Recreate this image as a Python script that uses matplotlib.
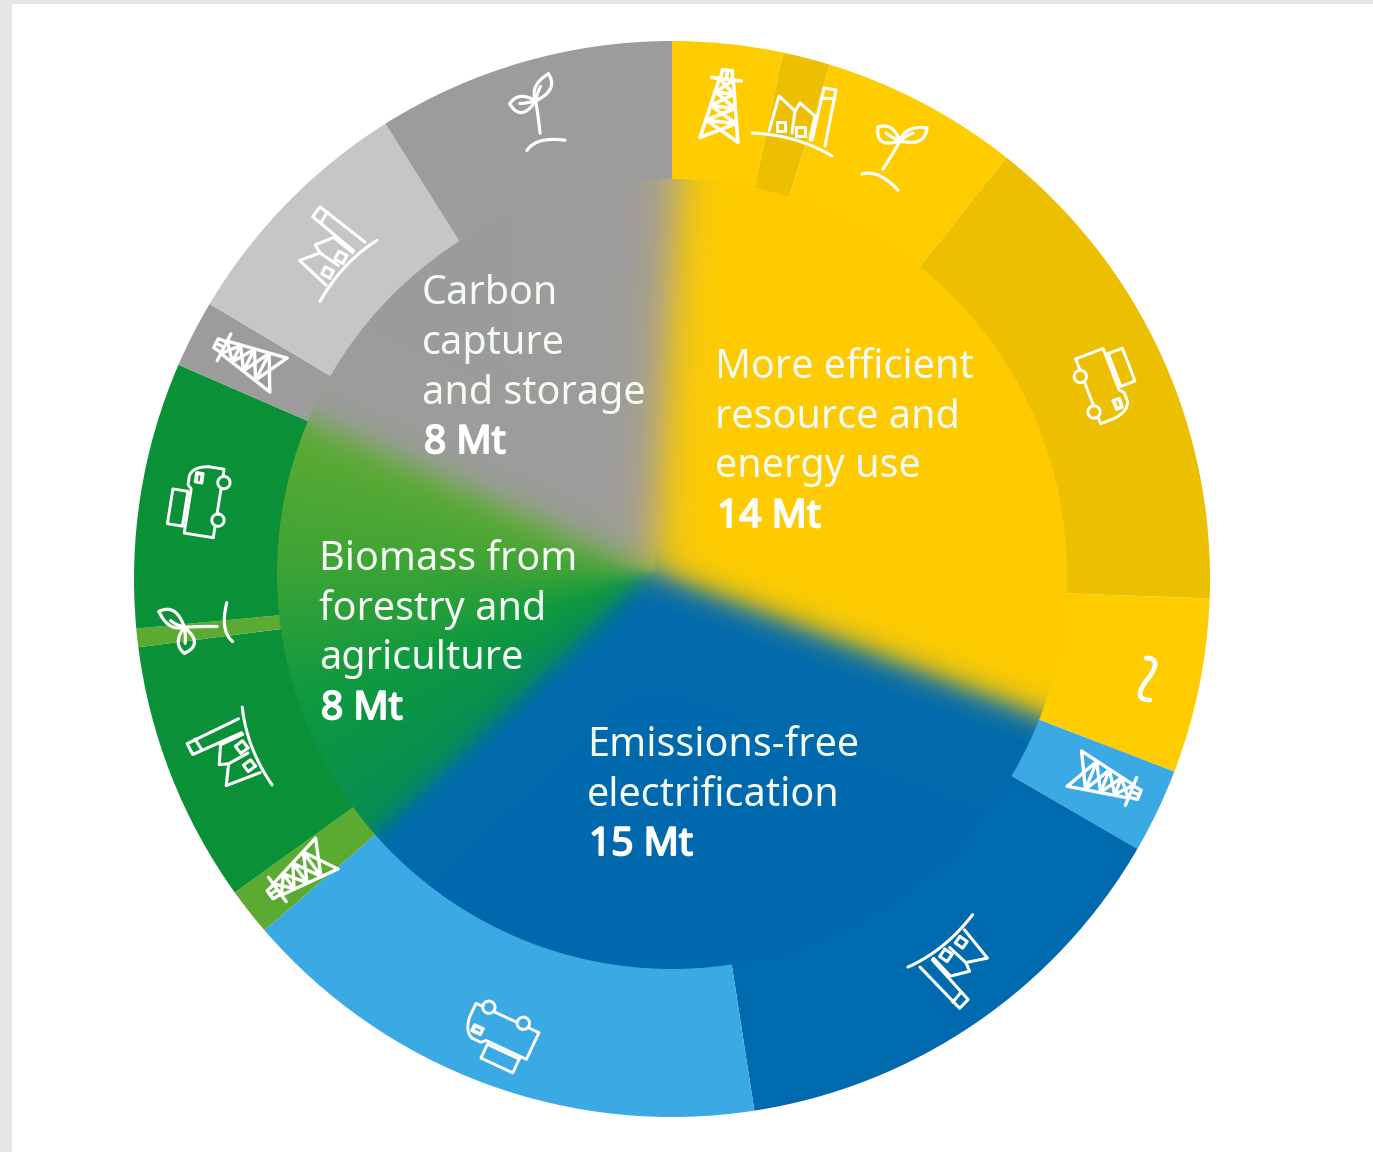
import numpy as np
import matplotlib
matplotlib.use("Agg")
import matplotlib.pyplot as plt
import matplotlib.patheffects as pe
from matplotlib.patches import Circle, Rectangle
from matplotlib.transforms import Affine2D

W, H = 1373, 1152

# ---------- data ----------
outer_values = [1.49, 0.64, 2.67, 6.70, 2.36, 1.14, 6.38, 7.25, 0.64, 3.54, 0.25, 3.59, 0.91, 3.38, 4.02]
outer_names = ["oil", "industry", "biomass", "transport", "other",
               "oil", "industry", "transport",
               "oil", "industry", "biomass", "transport",
               "oil", "industry", "biomass"]
YEL, GOLD = "#FFCC00", "#ECBF00"
BLU, LBL = "#006AAE", "#3BA9E3"
GRN, LGR = "#0A9138", "#5BAA32"
GRY, LGY = "#9D9C9C", "#C6C6C5"
outer_colors = [YEL, GOLD, YEL, GOLD, YEL, LBL, BLU, LBL, LGR, GRN, LGR, GRN, GRY, LGY, GRY]

inner_names = ["More efficient resource and energy use", "Emissions-free electrification",
               "Biomass from forestry and agriculture", "Carbon capture and storage"]
inner_mt = [14, 15, 8, 8]
inner_bounds_deg = [3.5, 110.4, 226.8, 293.8]
inner_blur = [12.0, 8.0, 6.0, 9.0]

labels = [
    (["Carbon", "capture", "and storage"], "8 Mt", 422, [304, 354, 404, 453]),
    (["More efficient", "resource and", "energy use"], "14 Mt", 715, [378, 428, 477, 527]),
    (["Biomass from", "forestry and", "agriculture"], "8 Mt", 319, [570, 620, 669, 719]),
    (["Emissions-free", "electrification"], "15 Mt", 587, [756, 806, 855]),
]

# ---------- figure ----------
fig = plt.figure(figsize=(W / 100, H / 100), dpi=100, facecolor="white")
ax = fig.add_axes([0, 0, 1, 1])
CX, CY, R = 672, H - 579, 538
ICX, ICY, IR = 672, H - 574, 395

ax.pie(outer_values, colors=outer_colors, startangle=90, counterclock=False,
       center=(CX, CY), radius=R, wedgeprops=dict(width=R - IR + 6, linewidth=0))

# inner disc with soft sector borders
AX, AY = 655, H - 572
yy, xx = np.mgrid[0:H, 0:W]
px = xx + 0.5 - AX
py = (H - yy - 0.5) - AY
th = np.radians(inner_bounds_deg)
dist = [px * np.cos(t) - py * np.sin(t) for t in th]
sig = lambda v: 1 / (1 + np.exp(np.clip(-v, -30, 30)))
rgb = lambda c: np.array(matplotlib.colors.to_rgb(c))
ang = (np.degrees(np.arctan2(px, py))) % 360
gr_stops = [226, 250, 272, 294]
gr_cols = np.array([rgb("#078C55"), rgb("#0F993F"), rgb("#3FA436"), rgb("#5EAC32")])
green = np.dstack([np.interp(ang, gr_stops, gr_cols[:, k]) for k in range(3)])
fills = [np.ones((H, W, 3)) * rgb(YEL), np.ones((H, W, 3)) * rgb(BLU), green, np.ones((H, W, 3)) * rgb(GRY)]
n = len(th)
weights = [sig(dist[i] / inner_blur[i]) * sig(-dist[(i + 1) % n] / inner_blur[(i + 1) % n]) for i in range(n)]
tot = sum(weights) + 1e-6
img = sum(w[..., None] * f for w, f in zip(weights, fills)) / tot[..., None]
im = ax.imshow(np.clip(img, 0, 1), extent=(0, W, 0, H), origin="upper", zorder=2, interpolation="bilinear")
clip = Circle((ICX, ICY), IR, transform=ax.transData)
im.set_clip_path(clip)


# ---------- icons ----------
def q(p0, p1, p2, k=14):
    t = np.linspace(0, 1, k)[:, None]
    p0, p1, p2 = map(np.array, (p0, p1, p2))
    return (1 - t) ** 2 * p0 + 2 * t * (1 - t) * p1 + t ** 2 * p2


def circ(x, y, r):
    t = np.linspace(0, 2 * np.pi, 24)
    return np.c_[x + r * np.cos(t), y + r * np.sin(t)]


def box(x0, y0, x1, y1):
    return np.array([(x0, y0), (x1, y0), (x1, y1), (x0, y1), (x0, y0)])


def rig():
    lv = [(-19, -33), (-15, -15), (-12, 0), (-9, 14), (-7, 28)]
    out = [np.array([(-19, -33), (-7, 28)]), np.array([(19, -33), (7, 28)]),
           np.array([(-15, 28), (15, 28)]), np.array([(-6, 28), (-5, 37), (5, 37), (6, 28)]),
           np.array([(0, 37), (0, 28)])]
    for a, b in zip(lv[:-1], lv[1:]):
        out.append(np.array([a, (-b[0], b[1])]))
        out.append(np.array([(-a[0], a[1]), b]))
        if a[1] > -33:
            out.append(np.array([(a[0], a[1]), (-a[0], a[1])]))
    return out


def factory():
    return [q((-40, -20), (5, -22), (40, -43)),
            np.array([(-23, -18), (-13, 17), (3, 2), (0, -20)]),
            np.array([(3, 2), (8, 10), (23, -3), (18, -27)]),
            np.array([(20, -27), (32, 25), (44, 23), (33, -33)]),
            np.array([(30, 15), (43, 14)]),
            box(-15, -18, -7, -9), box(4, -23, 13, -14)]


def plant():
    return [q((0, -12), (8, 0), (17, 16)),
            q((-21, -17), (-5, -12), (15, -33)),
            q((17, 16), (10, 35), (-5, 30)), q((-5, 30), (-8, 8), (17, 16)),
            q((17, 16), (22, 32), (44, 29)), q((44, 29), (42, 10), (17, 16)),
            q((17, 16), (8, 20), (3, 24)), q((17, 16), (24, 22), (30, 24))]


def truck():
    return [box(-30, 14, 7, 30),
            np.array([(-37, -20), (-37, 11), (10, 11), (14, 15), (24, 15)]),
            q((24, 15), (34, 12), (36, -4)),
            np.array([(36, -4), (36, -20), (29, -20)]),
            circ(22, -22, 6.5),
            np.array([(15, -20), (-11, -20)]),
            circ(-18, -22, 6.5),
            np.array([(-25, -20), (-37, -20)]),
            box(18, 1, 28, 8),
            np.array([(20, 2), (27, 2), (27, 7), (20, 7)])]


def wave():
    return [np.vstack([q((-2, 20), (14, 20), (2, 2)), q((2, 2), (-18, -22), (2, -22))])]


ICONS = dict(rig=rig(), factory=factory(), plant=plant(), truck=truck(), wave=wave())
# name, pixel x, pixel y, clockwise rotation, scale, line width
placements = [
    ("rig", 723, 107, 7, 1.0, 2.6), ("factory", 792, 113, 0, 1.0, 2.2), ("plant", 883, 157, 0, 1.0, 2.3),
    ("truck", 1106, 385, 69, 0.95, 2.1), ("wave", 1148, 678, 0, 1.0, 3.4),
    ("rig", 1105, 781, 112, 1.0, 2.4), ("factory", 966, 959, 125, 1.0, 2.2),
    ("truck", 499, 1035, 205, 0.95, 2.1),
    ("rig", 300, 873, 234, 1.0, 2.4), ("factory", 232, 765, 233, 1.0, 2.2),
    ("plant", 207, 633, 237.5, 1.0, 2.3), ("truck", 200, 500, 279, 0.95, 2.1),
    ("rig", 249, 360, 297, 1.0, 2.4), ("factory", 320.5, 256.5, 297, 1.0, 2.2),
    ("plant", 532.5, 124, 321, 1.0, 2.3),
]
for name, x, y, rot, s, lw in placements:
    tr = Affine2D().scale(s).rotate_deg(-rot).translate(x, H - y) + ax.transData
    for seg in ICONS[name]:
        ax.plot(seg[:, 0], seg[:, 1], color="white", lw=lw, transform=tr, zorder=4,
                solid_capstyle="round", solid_joinstyle="round")

# ---------- text ----------
FONT = ["Noto Sans", "DejaVu Sans"]
SZ = 28.5
for lines, mt, x, ys in labels:
    for line, y in zip(lines, ys):
        ax.text(x, H - y, line, color="#F4FAF4", fontsize=SZ, family=FONT, va="baseline", ha="left", zorder=5)
    t = ax.text(x + 2, H - ys[-1], mt, color="white", fontsize=SZ - 0.5, family=FONT,
                va="baseline", ha="left", zorder=5)
    t.set_path_effects([pe.withStroke(linewidth=1.4, foreground="white")])

# page edge
ax.add_patch(Rectangle((0, 0), 12, H, color="#E6E6E6", lw=0, zorder=6))
ax.add_patch(Rectangle((0, H - 4), W, 4, color="#E6E6E6", lw=0, zorder=6))

ax.set_xlim(0, W)
ax.set_ylim(0, H)
ax.set_aspect("equal")
ax.axis("off")
fig.savefig("out.png", dpi=100, facecolor="white")
